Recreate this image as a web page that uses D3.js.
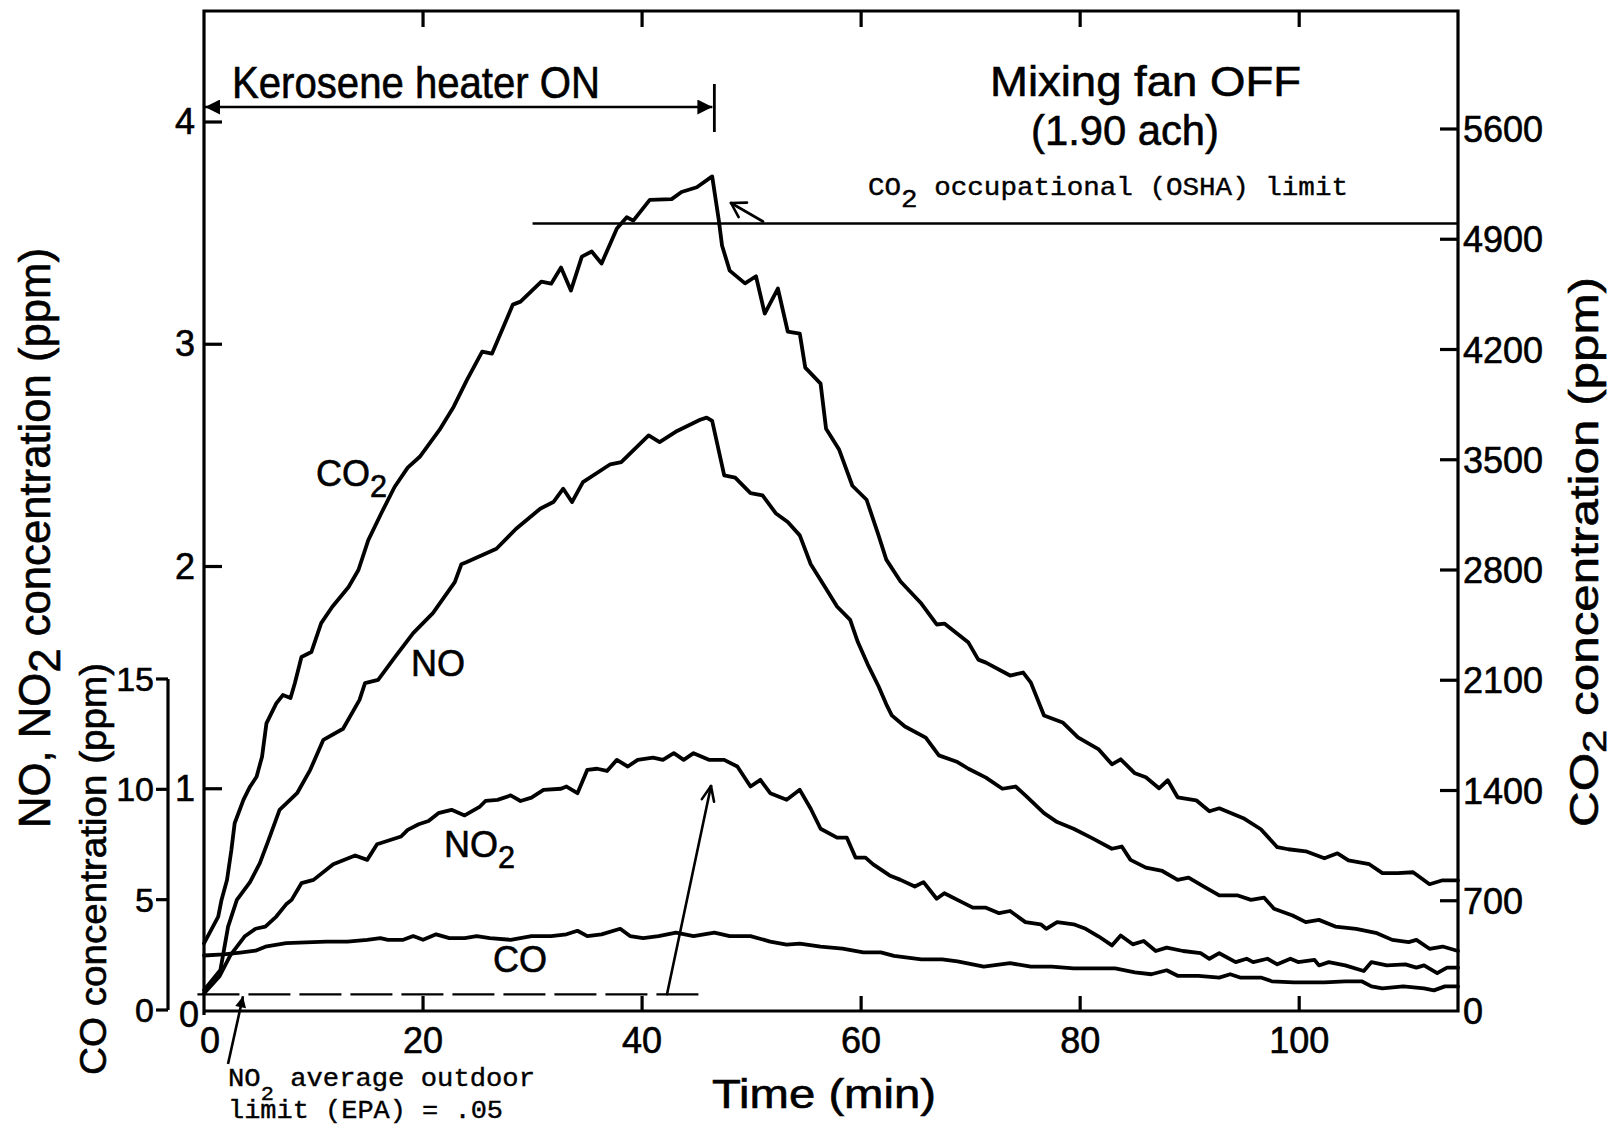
<!DOCTYPE html>
<html>
<head>
<meta charset="utf-8">
<script src="https://cdn.jsdelivr.net/npm/d3@7"></script>
<style>
  html, body { margin: 0; padding: 0; background: #fff; }
  text { fill: #000; }
  .lab { font-family: "Liberation Sans", Arial, sans-serif; stroke: #000; stroke-width: 0.6; }
  .mono { font-family: "Liberation Mono", "DejaVu Sans Mono", monospace; stroke: #000; stroke-width: 0.4; }
</style>
</head>
<body>
<div id="chart"></div>
<script>
// ---- data ----
// CO2 (right axis, ppm)
const co2Time = [0, 1.3, 1.6, 2.1, 2.5, 2.8, 3.6, 4.2, 4.8, 5.3, 5.7, 6.6, 7.2, 7.9, 8.3, 8.9, 9.8, 10.7, 11.7, 13.2,
  14.1, 15.0, 16.2, 17.4, 18.6, 19.7, 21.5, 22.8, 24.0, 25.4, 26.3, 28.2, 28.9, 30.8, 31.7, 32.6, 33.5, 34.5, 35.4, 36.3,
  37.7, 38.6, 39.2, 40.7, 42.7, 43.6, 45.0, 46.4, 47.0, 47.3, 48.0, 49.4, 50.4, 51.2, 52.4, 53.3, 54.4, 54.9, 56.3, 56.8,
  58.0, 59.2, 60.5, 61.6, 62.3, 63.6, 65.5, 66.9, 67.6, 69.8, 70.7, 71.4, 73.6, 74.8, 75.5, 76.7, 78.4, 79.8, 81.7, 82.9,
  83.7, 85.0, 86.0, 87.2, 88.0, 88.9, 90.6, 91.8, 92.7, 94.9, 96.5, 98.0, 99.0, 100.6, 102.3, 103.5, 104.5, 106.4, 107.6,
  109.0, 110.4, 111.9, 113.1, 114.5];
const co2Ppm = [430, 599, 705, 832, 1022, 1192, 1340, 1424, 1487, 1615, 1826, 1953, 2006, 1987, 2083, 2248, 2279, 2463, 2565, 2692,
  2800, 2990, 3162, 3327, 3450, 3519, 3689, 3837, 4006, 4187, 4174, 4485, 4504, 4631, 4618, 4720, 4574, 4790, 4822, 4746,
  4968, 5040, 5018, 5150, 5155, 5200, 5230, 5299, 5024, 4860, 4701, 4620, 4665, 4428, 4587, 4314, 4301, 4085, 3983, 3697,
  3563, 3335, 3246, 3018, 2866, 2727, 2587, 2454, 2460, 2339, 2231, 2212, 2130, 2149, 2085, 1876, 1832, 1737, 1661, 1566,
  1598, 1509, 1484, 1414, 1465, 1357, 1338, 1268, 1287, 1224, 1154, 1040, 1027, 1014, 970, 1001, 957, 932, 875,
  875, 881, 805, 830, 830];

// NO (left axis, ppm)
const noTime = [0, 1.5, 2.2, 3.0, 4.2, 5.1, 5.9, 6.9, 8.5, 9.7, 10.9, 12.7, 14.2, 14.7, 15.9, 17.4, 19.1, 20.9, 22.9, 23.5,
  24.0, 26.7, 28.5, 30.7, 31.9, 32.8, 33.6, 34.6, 37.1, 38.1, 40.6, 41.6, 43.2, 45.3, 45.9, 46.4, 47.5, 48.5, 49.9, 51.0,
  52.2, 53.3, 54.4, 55.4, 56.8, 57.8, 59.0, 59.7, 60.6, 61.6, 62.3, 62.8, 64.0, 65.9, 67.1, 68.8, 69.8, 71.4, 72.9, 74.1,
  75.0, 76.7, 77.9, 79.4, 81.0, 82.9, 83.8, 84.6, 86.0, 87.5, 88.9, 89.9, 91.3, 92.7, 94.4, 95.6, 96.8, 97.7, 99.4,
  100.6, 101.8, 103.3, 105.2, 107.1, 108.5, 110.0, 110.7, 111.9, 113.1, 114.5];
const noPpm = [0.094, 0.185, 0.38, 0.50, 0.58, 0.665, 0.77, 0.905, 0.98, 1.085, 1.22, 1.27, 1.40, 1.475, 1.49, 1.59, 1.70, 1.79, 1.93, 2.01,
  2.02, 2.08, 2.17, 2.26, 2.29, 2.35, 2.29, 2.38, 2.46, 2.47, 2.59, 2.56, 2.61, 2.66, 2.67, 2.655, 2.41, 2.40, 2.33, 2.32,
  2.24, 2.20, 2.14, 2.01, 1.90, 1.82, 1.76, 1.66, 1.56, 1.46, 1.38, 1.33, 1.28, 1.23, 1.15, 1.12, 1.09, 1.05, 1.00, 1.01,
  0.97, 0.89, 0.85, 0.82, 0.78, 0.73, 0.74, 0.68, 0.645, 0.63, 0.59, 0.60, 0.56, 0.52, 0.52, 0.50, 0.51, 0.46, 0.43,
  0.40, 0.41, 0.38, 0.37, 0.35, 0.32, 0.31, 0.32, 0.28, 0.29, 0.27];

// NO2 (left axis, ppm)
const no2Time = [0, 1.4, 2.4, 3.7, 4.7, 5.6, 6.6, 7.5, 8.0, 8.9, 10.0, 11.8, 13.8, 14.9, 15.8, 18.0, 18.6, 19.6,
  20.5, 21.4, 22.6, 23.8, 25.2, 25.7, 26.8, 28.0, 28.9, 29.9, 31.0, 32.6, 33.1, 34.1, 35.0, 35.9, 36.8, 37.7, 38.7, 39.6,
  41.0, 41.9, 42.9, 43.8, 44.7, 46.1, 47.5, 48.7, 49.9, 50.8, 51.7, 53.2, 54.4, 55.4, 56.3, 57.8, 58.7, 59.5, 60.4, 61.1,
  62.6, 63.6, 64.9, 65.7, 66.9, 67.6, 69.2, 70.2, 71.4, 72.6, 73.6, 75.0, 76.4, 76.9, 77.9, 79.4, 80.5, 81.7, 82.9, 83.7,
  84.8, 85.8, 86.9, 87.9, 89.4, 91.0, 91.8, 92.7, 94.2, 95.2, 95.8, 97.1, 98.0, 99.2, 99.9, 101.4, 101.8, 102.7, 104.2,
  105.9, 106.6, 108.0, 109.7, 110.7, 111.4, 112.6, 113.5, 114.5];
const no2Ppm = [0.079, 0.155, 0.25, 0.335, 0.37, 0.38, 0.425, 0.48, 0.50, 0.575, 0.59, 0.66, 0.70, 0.68, 0.75, 0.785, 0.815, 0.84,
  0.855, 0.89, 0.905, 0.88, 0.92, 0.945, 0.95, 0.97, 0.945, 0.96, 0.995, 1.00, 1.01, 0.98, 1.085, 1.09, 1.08, 1.13, 1.10, 1.13,
  1.14, 1.13, 1.16, 1.13, 1.16, 1.13, 1.13, 1.10, 1.01, 1.04, 0.98, 0.95, 0.995, 0.91, 0.82, 0.78, 0.78, 0.69, 0.69, 0.66,
  0.61, 0.59, 0.56, 0.58, 0.505, 0.53, 0.49, 0.465, 0.465, 0.44, 0.45, 0.40, 0.39, 0.37, 0.40, 0.39, 0.37, 0.335, 0.295, 0.34,
  0.30, 0.315, 0.27, 0.285, 0.27, 0.26, 0.235, 0.26, 0.22, 0.235, 0.22, 0.235, 0.21, 0.235, 0.22, 0.23, 0.205, 0.22, 0.205,
  0.18, 0.22, 0.205, 0.21, 0.195, 0.205, 0.17, 0.195, 0.195];

// CO (inner left axis, ppm)
const coTime = [0, 1.8, 3.3, 4.7, 5.6, 7.5, 9.3, 11.2, 13.1, 14.9, 16.1, 16.8, 18.2, 19.1, 20.0, 21.2, 22.4, 23.8, 24.9, 26.1,
  28.0, 29.9, 31.7, 33.1, 34.1, 35.0, 36.3, 38.0, 38.9, 40.1, 41.5, 43.1, 44.7, 46.6, 48.0, 49.9, 51.7, 53.2, 54.4, 56.3,
  58.3, 60.2, 61.8, 63.0, 65.5, 67.4, 68.8, 71.2, 73.6, 75.5, 77.4, 79.4, 81.3, 83.2, 85.0, 86.5, 87.9, 88.9, 90.8, 92.7,
  93.7, 94.6, 96.5, 97.5, 99.5, 102.3, 104.2, 105.7, 106.6, 107.6, 109.5, 111.4, 112.3, 113.3, 114.5];
const coPpm = [2.47, 2.52, 2.60, 2.69, 2.87, 3.03, 3.06, 3.10, 3.10, 3.18, 3.26, 3.18, 3.18, 3.35, 3.18, 3.43, 3.26, 3.26, 3.35, 3.26,
  3.18, 3.35, 3.35, 3.43, 3.59, 3.35, 3.43, 3.68, 3.35, 3.26, 3.35, 3.51, 3.35, 3.51, 3.35, 3.35, 3.10, 2.96, 3.01, 2.87,
  2.78, 2.61, 2.61, 2.45, 2.29, 2.29, 2.20, 1.97, 2.12, 1.97, 1.97, 1.89, 1.89, 1.89, 1.71, 1.62, 1.80, 1.55, 1.55, 1.47,
  1.62, 1.47, 1.47, 1.30, 1.25, 1.25, 1.30, 1.30, 1.07, 0.98, 1.07, 0.98, 0.89, 1.07, 1.07];

// axis ticks
const timeTicks = [0, 20, 40, 60, 80, 100];
const noTicks = [0, 1, 2, 3, 4];
const co2Ticks = [0, 700, 1400, 2100, 2800, 3500, 4200, 4900, 5600];
const coTicks = [0, 5, 10, 15];

// reference levels
const heaterOffMin = 46.6;
const oshaCo2 = 5000, oshaStartMin = 30;
const no2Outdoor = 0.075, no2OutdoorEndMin = 45.5;

// ---- drawing ----
const W = 1622, H = 1129;
const svg = d3.select("#chart").append("svg")
    .attr("width", W).attr("height", H)
    .style("display", "block").style("background", "#fff");

const x = d3.scaleLinear().domain([0, 114.5]).range([204, 1458]);
const yNO = d3.scaleLinear().domain([0, 4]).range([1011, 122]);
const yCO2 = d3.scaleLinear().domain([0, 5600]).range([1011, 129]);
const yCO = d3.scaleLinear().domain([0, 15]).range([1010, 679]);

const frameTop = 11, frameBottom = 1011, frameLeft = x(0), frameRight = x(114.5);

// markers
const defs = svg.append("defs");
defs.append("marker").attr("id", "headBig")
    .attr("viewBox", "0 0 10 10").attr("refX", 10).attr("refY", 5)
    .attr("markerWidth", 26).attr("markerHeight", 15)
    .attr("markerUnits", "userSpaceOnUse").attr("orient", "auto-start-reverse")
    .append("path").attr("d", "M0,0 L10,5 L0,10 Z").attr("fill", "#000");
defs.append("marker").attr("id", "headSmall")
    .attr("viewBox", "0 0 10 10").attr("refX", 10).attr("refY", 5)
    .attr("markerWidth", 16).attr("markerHeight", 11)
    .attr("markerUnits", "userSpaceOnUse").attr("orient", "auto")
    .append("path").attr("d", "M0,0 L10,5 L0,10 Z").attr("fill", "#000");

// frame
const axisG = svg.append("g").attr("stroke", "#000").attr("stroke-width", 3.2).attr("fill", "none");
axisG.append("path").attr("d", `M${frameLeft},${frameBottom + 4}V${frameTop}H${frameRight}V${frameBottom}H${frameLeft}`);

// x ticks (bottom up, top down)
timeTicks.filter(t => t > 0).forEach(t => {
    axisG.append("line").attr("x1", x(t)).attr("x2", x(t)).attr("y1", frameBottom).attr("y2", frameBottom - 15);
    axisG.append("line").attr("x1", x(t)).attr("x2", x(t)).attr("y1", frameTop).attr("y2", frameTop + 16);
});
svg.selectAll(".xlab").data(timeTicks).enter().append("text")
    .attr("class", "lab")
    .attr("x", d => x(d) + (d === 0 ? 6 : 0)).attr("y", 1053)
    .attr("text-anchor", "middle").attr("font-size", 36)
    .text(d => d);

// left NO / NO2 axis
noTicks.filter(v => v > 0).forEach(v => {
    axisG.append("line").attr("x1", frameLeft).attr("x2", frameLeft + 18).attr("y1", yNO(v)).attr("y2", yNO(v));
});
svg.selectAll(".nolab").data(noTicks).enter().append("text")
    .attr("class", "lab")
    .attr("x", d => d === 0 ? 199 : 195).attr("y", d => yNO(d) + (d === 0 ? 16 : 12))
    .attr("text-anchor", "end").attr("font-size", 36)
    .text(d => d);

// right CO2 axis
co2Ticks.filter(v => v > 0).forEach(v => {
    axisG.append("line").attr("x1", frameRight).attr("x2", frameRight - 18).attr("y1", yCO2(v)).attr("y2", yCO2(v));
});
svg.selectAll(".co2lab").data(co2Ticks).enter().append("text")
    .attr("class", "lab")
    .attr("x", 1463).attr("y", d => yCO2(d) + 13)
    .attr("text-anchor", "start").attr("font-size", 36)
    .text(d => d);

// CO axis (separate, inner left)
const coX = 168;
axisG.append("line").attr("x1", coX).attr("x2", coX).attr("y1", yCO(0)).attr("y2", yCO(15));
coTicks.forEach(v => {
    axisG.append("line").attr("x1", coX).attr("x2", coX - 12).attr("y1", yCO(v)).attr("y2", yCO(v));
});
svg.selectAll(".colab").data(coTicks).enter().append("text")
    .attr("class", "lab")
    .attr("x", 154).attr("y", d => yCO(d) + 12)
    .attr("text-anchor", "end").attr("font-size", 34)
    .text(d => d);

// series
const lineOf = (ys) => d3.line().x(d => x(d[0])).y(d => ys(d[1]));
const series = [
    { t: co2Time, v: co2Ppm, y: yCO2 },
    { t: noTime, v: noPpm, y: yNO },
    { t: no2Time, v: no2Ppm, y: yNO },
    { t: coTime, v: coPpm, y: yCO }
];
series.forEach(s => {
    svg.append("path")
        .datum(d3.zip(s.t, s.v))
        .attr("d", lineOf(s.y))
        .attr("fill", "none").attr("stroke", "#000")
        .attr("stroke-width", 3.8).attr("stroke-linejoin", "round").attr("stroke-linecap", "round");
});

// OSHA limit line
svg.append("line")
    .attr("x1", x(oshaStartMin)).attr("x2", frameRight)
    .attr("y1", yCO2(oshaCo2)).attr("y2", yCO2(oshaCo2))
    .attr("stroke", "#000").attr("stroke-width", 2.4);

// NO2 outdoor limit dashed line
svg.append("line")
    .attr("x1", x(-0.6)).attr("x2", x(no2OutdoorEndMin))
    .attr("y1", yNO(no2Outdoor)).attr("y2", yNO(no2Outdoor))
    .attr("stroke", "#000").attr("stroke-width", 2.2)
    .attr("stroke-dasharray", "42,9");

// open arrowhead helper
function openArrow(x1, y1, x2, y2, len, spread) {
    const g = svg.append("g").attr("stroke", "#000").attr("stroke-width", 2.6).attr("fill", "none")
        .attr("stroke-linecap", "round");
    g.append("line").attr("x1", x1).attr("y1", y1).attr("x2", x2).attr("y2", y2);
    const a = Math.atan2(y1 - y2, x1 - x2);
    [a - spread, a + spread].forEach(b => {
        g.append("line").attr("x1", x2).attr("y1", y2)
            .attr("x2", x2 + len * Math.cos(b)).attr("y2", y2 + len * Math.sin(b));
    });
}
// OSHA label arrow to CO2 peak
openArrow(763, yCO2(oshaCo2) - 2, 731, 203, 16, 0.55);
// arrow from NO2 outdoor line up to NO2 curve
openArrow(667, yNO(no2Outdoor), 711, 786, 16, 0.4);

// arrow from EPA label to dashed line
svg.append("line")
    .attr("x1", 228).attr("y1", 1064).attr("x2", 243).attr("y2", yNO(no2Outdoor) + 2)
    .attr("stroke", "#000").attr("stroke-width", 2.6)
    .attr("marker-end", "url(#headSmall)");

// heater ON double arrow
svg.append("line")
    .attr("x1", frameLeft + 1).attr("x2", x(heaterOffMin) - 2).attr("y1", 107).attr("y2", 107)
    .attr("stroke", "#000").attr("stroke-width", 2.6)
    .attr("marker-start", "url(#headBig)").attr("marker-end", "url(#headBig)");
svg.append("line")
    .attr("x1", x(heaterOffMin)).attr("x2", x(heaterOffMin)).attr("y1", 84).attr("y2", 132)
    .attr("stroke", "#000").attr("stroke-width", 2.8);

// big lettering
svg.append("text").attr("class", "lab")
    .attr("x", 232).attr("y", 98).attr("font-size", 44)
    .attr("textLength", 368).attr("lengthAdjust", "spacingAndGlyphs")
    .text("Kerosene heater ON");
svg.append("text").attr("class", "lab")
    .attr("x", 990).attr("y", 96).attr("font-size", 43)
    .attr("textLength", 311).attr("lengthAdjust", "spacingAndGlyphs")
    .text("Mixing fan OFF");
svg.append("text").attr("class", "lab")
    .attr("x", 1031).attr("y", 145).attr("font-size", 42)
    .attr("textLength", 188).attr("lengthAdjust", "spacingAndGlyphs")
    .text("(1.90 ach)");

// typewriter annotations
const osha = svg.append("text").attr("class", "mono").attr("font-size", 26)
    .attr("x", 868).attr("y", 195)
    .attr("textLength", 480).attr("lengthAdjust", "spacingAndGlyphs");
osha.append("tspan").text("CO");
osha.append("tspan").attr("dy", 12).text("2");
osha.append("tspan").attr("dy", -12).text(" occupational (OSHA) limit");

const epa1 = svg.append("text").attr("class", "mono").attr("font-size", 26)
    .attr("x", 228).attr("y", 1086)
    .attr("textLength", 307).attr("lengthAdjust", "spacingAndGlyphs");
epa1.append("tspan").text("NO");
epa1.append("tspan").attr("dy", 14).attr("font-size", 21).text("2");
epa1.append("tspan").attr("dy", -14).text(" average outdoor");
svg.append("text").attr("class", "mono").attr("font-size", 26)
    .attr("x", 228).attr("y", 1118)
    .attr("textLength", 275).attr("lengthAdjust", "spacingAndGlyphs")
    .text("limit (EPA) = .05");

// series labels
function subLabel(px, py, main, sub, size, subDy) {
    const t = svg.append("text").attr("class", "lab").attr("font-size", size)
        .attr("x", px).attr("y", py);
    t.append("tspan").text(main);
    if (sub) t.append("tspan").attr("dy", subDy).attr("font-size", size * 0.85).text(sub);
    return t;
}
subLabel(316, 486, "CO", "2", 36, 11);
subLabel(411, 676, "NO", null, 36);
subLabel(444, 857, "NO", "2", 36, 11);
subLabel(493, 972, "CO", null, 36);

// axis titles
svg.append("text").attr("class", "lab")
    .attr("x", 824).attr("y", 1108).attr("text-anchor", "middle").attr("font-size", 40)
    .attr("textLength", 224).attr("lengthAdjust", "spacingAndGlyphs")
    .text("Time (min)");

const tNO = svg.append("text").attr("class", "lab")
    .attr("transform", "translate(50,538) rotate(-90)")
    .attr("text-anchor", "middle").attr("font-size", 44)
    .attr("textLength", 580).attr("lengthAdjust", "spacingAndGlyphs");
tNO.append("tspan").text("NO, NO");
tNO.append("tspan").attr("dy", 10).text("2");
tNO.append("tspan").attr("dy", -10).text(" concentration (ppm)");

svg.append("text").attr("class", "lab")
    .attr("transform", "translate(106,869) rotate(-90)")
    .attr("text-anchor", "middle").attr("font-size", 36)
    .attr("textLength", 412).attr("lengthAdjust", "spacingAndGlyphs")
    .text("CO concentration (ppm)");

const tCO2 = svg.append("text").attr("class", "lab")
    .attr("transform", "translate(1598,552) rotate(-90)")
    .attr("text-anchor", "middle").attr("font-size", 40)
    .attr("textLength", 550).attr("lengthAdjust", "spacingAndGlyphs");
tCO2.append("tspan").text("CO");
tCO2.append("tspan").attr("dy", 8).attr("font-size", 34).text("2");
tCO2.append("tspan").attr("dy", -8).text(" concentration (ppm)");
</script>
</body>
</html>
